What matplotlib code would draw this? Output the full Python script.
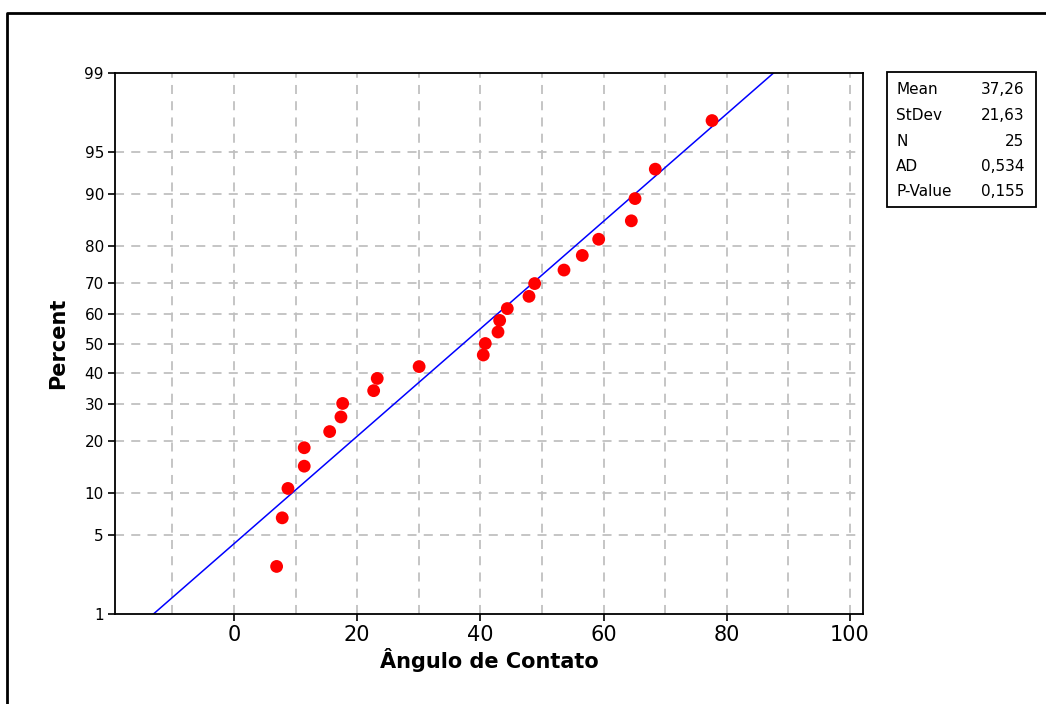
''' normal probability plot of contact angle (Minitab style) '''

from statistics import NormalDist
import numpy as np
import matplotlib
matplotlib.use("Agg")
import matplotlib.pyplot as plt
from matplotlib.patches import Rectangle
from matplotlib.lines import Line2D

# contact angle readings, sorted
angulo = [6.93, 7.84, 8.77, 11.41, 11.41, 15.54, 17.37, 17.65, 22.68, 23.26,
          30.06, 40.47, 40.80, 42.86, 43.13, 44.37, 47.89, 48.81, 53.57, 56.54,
          59.20, 64.50, 65.10, 68.39, 77.60]
# plotted percent for each point (median ranks)
percent = [2.76, 6.69, 10.63, 14.57, 18.50, 22.44, 26.38, 30.31, 34.25, 38.19,
           42.13, 46.06, 50.00, 53.94, 57.87, 61.81, 65.75, 69.69, 73.62, 77.56,
           81.50, 85.43, 89.37, 93.31, 97.24]

mean, stdev = 37.26, 21.63
stat_names = ["Mean", "StDev", "N", "AD", "P-Value"]
stat_values = ["37,26", "21,63", "25", "0,534", "0,155"]

y_ticks = [1, 5, 10, 20, 30, 40, 50, 60, 70, 80, 90, 95, 99]
y_grid = [5, 10, 20, 30, 40, 50, 60, 70, 80, 90, 95]
x_ticks = [0, 20, 40, 60, 80, 100]
x_grid = [-10, 0, 10, 20, 30, 40, 50, 60, 70, 80, 90, 100]

nd = NormalDist()
def z(p):
    return nd.inv_cdf(p / 100.0)

W, H = 1046, 704
fig = plt.figure(figsize=(W / 100, H / 100), dpi=100)
ax = fig.add_axes([115 / W, 1 - 614 / H, (863 - 115) / W, (614 - 73) / H])

# grid
for g in x_grid:
    ax.axvline(g, color="#c0c0c0", lw=1.3, ls=(0, (5, 4)), zorder=1)
for g in y_grid:
    ax.axhline(z(g), color="#c0c0c0", lw=1.3, ls=(0, (5, 4)), zorder=1)

# fitted line
x_line = np.array([mean + z(1) * stdev, mean + z(99) * stdev])
ax.plot(x_line, (x_line - mean) / stdev, color="#0000ff", lw=1.1, zorder=2)

# data points
ax.scatter(angulo, [z(p) for p in percent], s=85, color="#ff0000",
           edgecolors="none", zorder=3)

ax.set_xlim(-19.3, 102.1)
ax.set_ylim(z(1), z(99))
ax.set_xticks(x_ticks)
ax.set_xticklabels([str(t) for t in x_ticks], fontsize=15)
ax.set_yticks([z(t) for t in y_ticks])
ax.set_yticklabels([str(t) for t in y_ticks], fontsize=11)
ax.tick_params(axis="both", direction="out", length=5, width=1.2, pad=3)
for sp in ax.spines.values():
    sp.set_linewidth(1.3)

ax.set_xlabel("Ângulo de Contato", fontsize=15, fontweight="bold", labelpad=2)
ax.set_ylabel("Percent", fontsize=15, fontweight="bold", labelpad=12)

# stats box
fig.patches.append(Rectangle((887 / W, 1 - 207 / H), (1036 - 887) / W,
                             (207 - 72) / H, transform=fig.transFigure,
                             fill=False, ec="black", lw=1.3))
for i, (nm, val) in enumerate(zip(stat_names, stat_values)):
    yy = 1 - (90 + i * 25.5) / H
    fig.text(896 / W, yy, nm, fontsize=11, va="center", ha="left")
    fig.text(1024 / W, yy, val, fontsize=11, va="center", ha="right")

# outer frame (top and left only)
fig.lines.append(Line2D([7 / W, 7 / W, 1.0], [0.0, 1 - 13 / H, 1 - 13 / H],
                        transform=fig.transFigure, color="black", lw=2))

fig.savefig("out.png", dpi=100)
